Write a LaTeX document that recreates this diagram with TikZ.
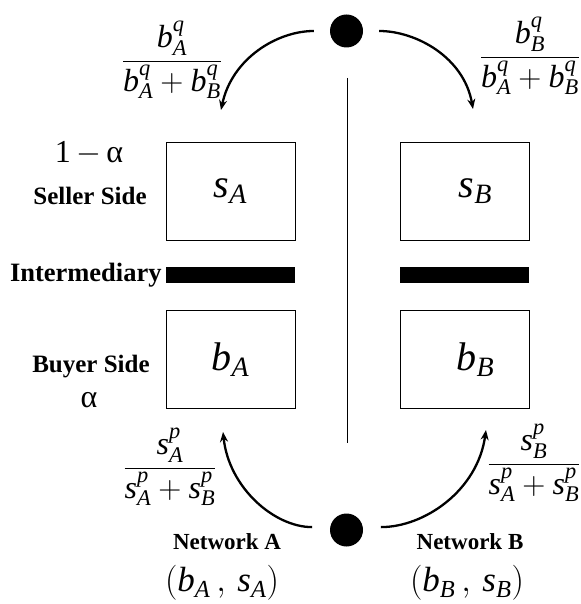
\RequirePackage{fix-cm}
\documentclass[tikz,border=0pt]{standalone}
\usepackage{amsmath}
\usepackage{fontspec}
\setmainfont{Liberation Serif}[
  ItalicFont={Liberation Serif Italic},
  BoldFont={Liberation Serif Bold}]
\usetikzlibrary{
  arrows.meta,
  positioning
}
\newcommand{\mv}[1]{\textit{#1}}
\tikzset{
  sidebox/.style={rectangle,draw=black,line width=0.8pt,minimum width=129pt,
    minimum height=98pt,inner sep=0pt,font=\fontsize{40}{44}\selectfont},
  interbar/.style={rectangle,fill=black,minimum width=129pt,minimum height=16pt,inner sep=0pt},
  agent/.style={circle,fill=black,minimum size=33pt,inner sep=0pt},
  flow/.style={-{Stealth[length=10pt,width=8pt]},line width=2.3pt},
  sidelbl/.style={font=\fontsize{25}{28}\selectfont\bfseries,inner sep=0pt},
  netlbl/.style={font=\fontsize{23}{26}\selectfont\bfseries,inner sep=0pt},
  share/.style={font=\fontsize{32}{34}\selectfont,inner sep=0pt},
  weight/.style={font=\fontsize{32}{34}\selectfont,inner sep=0pt},
  pair/.style={font=\fontsize{35}{37}\selectfont,inner sep=0pt}
}

\begin{document}
\begin{tikzpicture}[x=1pt,y=-1pt,
  divider/.style={draw=black,line width=0.8pt}
]
\path[use as bounding box] (0,0) rectangle (580,604);

% Networks
\node[sidebox] (sA) at (230.5,191) {$\mv{s}_\mv{A}$};
\node[sidebox] (sB) at (464.5,191) {\hspace{22pt}$\mv{s}_\mv{B}$};
\node[interbar] (interA) at (230.5,275) {};
\node[interbar] (interB) at (464.5,275) {};
\node[sidebox] (bA) at (230.5,359.5) {$\mv{b}_\mv{A}$};
\node[sidebox] (bB) at (464.5,359.5) {\hspace{22pt}$\mv{b}_\mv{B}$};

% Sides
\node[weight] (wsell) at (89,153) {1\,$-$\,α};
\node[sidelbl] (sell) at (90,196) {Seller Side};
\node[sidelbl,left=4pt of interA,font=\fontsize{26.5}{28}\selectfont\bfseries] (inter) {Intermediary};
\node[sidelbl] (buy) at (91,367) {Buyer Side};
\node[weight] (wbuy) at (89,400) {α};

% Agents
\node[agent] (topdot) at (346.5,31) {};
\node[agent] (botdot) at (346.5,530) {};

\coordinate (divtop) at (347,78);
\coordinate (divbot) at (347,443);
\draw[divider] (divtop) -- (divbot);

% Choice probabilities
\coordinate (tipsA) at (221,110);
\coordinate (tipsB) at (473,109);
\coordinate (tipbA) at (223,432);
\coordinate (tipbB) at (486,430);
\draw[flow,shorten <=16pt] (topdot.west) to[out=180,in=78] (tipsA);
\draw[flow,shorten <=16pt] (topdot.east) to[out=0,in=100] (tipsB);
\draw[flow,shorten <=18pt] (botdot.170) to[out=180,in=-84] (tipbA);
\draw[flow,shorten <=18pt] (botdot.10) to[out=0,in=-98] (tipbB);

\node[share] (qA) at (172,60) {$\displaystyle\frac{\mv{b}_\mv{A}^\mv{q}}{\mv{b}_\mv{A}^\mv{q}+\mv{b}_\mv{B}^\mv{q}}$};
\node[share] (qB) at (530,56) {$\displaystyle\frac{\mv{b}_\mv{B}^\mv{q}}{\mv{b}_\mv{A}^\mv{q}+\mv{b}_\mv{B}^\mv{q}}$};
\node[share] (pA) at (170,467) {$\displaystyle\frac{\mv{s}_\mv{A}^\mv{p}}{\mv{s}_\mv{A}^\mv{p}+\mv{s}_\mv{B}^\mv{p}}$};
\node[share] (pB) at (534,463) {$\displaystyle\frac{\mv{s}_\mv{B}^\mv{p}}{\mv{s}_\mv{A}^\mv{p}+\mv{s}_\mv{B}^\mv{p}}$};

% Labels
\node[netlbl] (netA) at (227,542) {Network A};
\node[netlbl] (netB) at (470,542) {Network B};
\node[pair] (pairA) at (222,583) {$(\mv{b}_\mv{A}\,,\,\mv{s}_\mv{A})$};
\node[pair] (pairB) at (467,583) {$(\mv{b}_\mv{B}\,,\,\mv{s}_\mv{B})$};

\end{tikzpicture}
\end{document}
